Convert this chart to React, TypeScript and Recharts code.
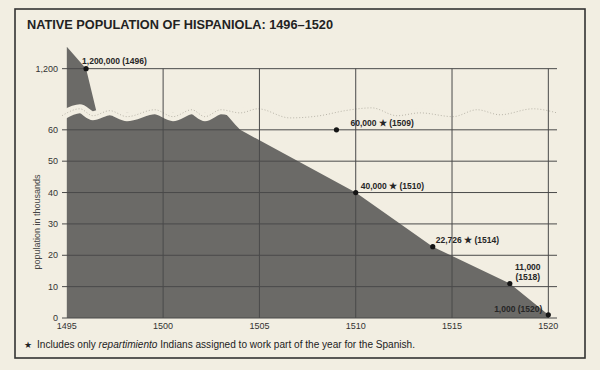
import { ComposedChart, Area, Line, Scatter, XAxis, YAxis, ReferenceLine } from 'recharts'

const BG = '#f2eee2'
const INK = '#262626'
const GRID = '#4a4a4a'
const FILL = '#6b6a67'
const FONT = '"Liberation Sans", Arial, Helvetica, sans-serif'

// the y axis is broken: up to 65 (thousands) it is linear, above that it is squeezed
const BREAK_AT = 65
const TOP_VALUE = 1200
const TOP_POS = 79.5
const toChart = (v: number) =>
  v <= BREAK_AT ? v : BREAK_AT + ((v - BREAK_AT) * (TOP_POS - BREAK_AT)) / (TOP_VALUE - BREAK_AT)

const xTicks = [1495, 1500, 1505, 1510, 1515, 1520]
const yTickValues = [0, 10, 20, 30, 40, 50, 60, 1200]
const yTickLabels = ['0', '10', '20', '30', '40', '50', '60', '1,200']

// population estimates, in thousands
const pointYears = [1496, 1509, 1510, 1514, 1518, 1520]
const pointPop = [1200, 60, 40, 22.726, 11, 1]
const pointText = [
  '1,200,000 (1496)',
  '60,000 ★ (1509)',
  '40,000 ★ (1510)',
  '22,726 ★ (1514)',
  '11,000\n(1518)',
  '1,000 (1520)',
]

// outline of the shaded area, in chart units (above the break it is only a sketch)
const areaYears = [1495, 1496, 1496.55, 1503.2, 1503.75, 1504, 1510, 1514, 1518, 1520]
const areaLevels = [86.5, 79.5, 65.5, 65.5, 61.6, 60, 40, 22.726, 11, 1]

// wavy break band across the axis
const breakYears = [
  1494.75, 1495.68, 1496.35, 1497.23, 1498.12, 1499.57, 1500.51, 1501.49, 1502.17, 1503.0, 1504.0,
  1504.92, 1506.58, 1508.14, 1509.44, 1510.84, 1512.14, 1513.34, 1515.05, 1516.3, 1517.49, 1519.21,
  1520.45,
]
const breakLevels = [
  64.5, 66.7, 64.5, 66.1, 64.2, 66.4, 64.2, 66.4, 64.2, 66.4, 65.4, 66.7, 63.8, 64.5, 66.1, 67.0, 64.5,
  65.4, 64.2, 66.4, 64.8, 66.7, 65.4,
]

const areaData = areaYears.map((year, i) => ({ year, v: areaLevels[i] }))
const breakData = breakYears.map((year, i) => ({ year, v: breakLevels[i] }))
const pointData = pointYears.map((year, i) => ({ year, v: toChart(pointPop[i]), text: pointText[i] }))
const yTicks = yTickValues.map(toChart)

const labelPos: Record<number, { dx: number; dy: number; anchor: 'start' | 'middle' | 'end' }> = {
  1496: { dx: -4, dy: -5, anchor: 'start' },
  1509: { dx: 14, dy: -4, anchor: 'start' },
  1510: { dx: 5, dy: -4, anchor: 'start' },
  1514: { dx: 3, dy: -4, anchor: 'start' },
  1518: { dx: 18, dy: -4, anchor: 'middle' },
  1520: { dx: -6, dy: -3, anchor: 'end' },
}

const renderPoint = (props: any) => {
  const { cx, cy, payload } = props
  const pos = labelPos[payload.year]
  const lines: string[] = payload.text.split('\n')
  const tx = cx + pos.dx
  return (
    <g>
      <circle cx={cx} cy={cy} r={2.6} fill="#151515" />
      <text
        x={tx}
        y={cy + pos.dy}
        textAnchor={pos.anchor}
        fontSize={8.5}
        fontWeight="bold"
        fill={INK}
        fontFamily={FONT}
      >
        {lines.map((l, i) => (
          <tspan key={i} x={tx} dy={i === 0 ? -(lines.length - 1) * 10 : 10}>
            {l}
          </tspan>
        ))}
      </text>
    </g>
  )
}

export default function App() {
  return (
    <div style={{ position: 'relative', width: 600, height: 370, background: BG, fontFamily: FONT }}>
      <style>{`body{margin:0;background:${BG}}`}</style>
      <ComposedChart
        width={600}
        height={370}
        margin={{ top: 42, right: 43, bottom: 32, left: 12 }}
        style={{ position: 'absolute', left: 0, top: 0 }}
      >
        <XAxis
          type="number"
          dataKey="year"
          domain={[1494.75, 1520.45]}
          allowDataOverflow
          ticks={xTicks}
          interval={0}
          axisLine={false}
          tickLine={false}
          tickSize={0}
          tickMargin={5}
          height={20}
          tick={{ fill: '#333', fontSize: 9, fontFamily: FONT }}
        />
        <YAxis
          type="number"
          dataKey="v"
          domain={[0, 88]}
          allowDataOverflow
          ticks={yTicks}
          interval={0}
          axisLine={false}
          tickLine={false}
          tickSize={0}
          tickMargin={4}
          width={50}
          tick={{ fill: '#333', fontSize: 9, fontFamily: FONT }}
          tickFormatter={(v: number) => yTickLabels[yTicks.findIndex((t) => Math.abs(t - v) < 1e-6)] ?? ''}
        />
        <Area
          data={areaData}
          dataKey="v"
          type="linear"
          fill={FILL}
          fillOpacity={1}
          stroke="none"
          isAnimationActive={false}
        />
        <Line
          data={breakData}
          dataKey="v"
          type="monotone"
          stroke={BG}
          strokeWidth={9}
          dot={false}
          activeDot={false}
          isAnimationActive={false}
        />
        <Line
          data={breakData}
          dataKey="v"
          type="monotone"
          stroke="#b9b5a9"
          strokeWidth={1}
          strokeDasharray="1 2"
          dot={false}
          activeDot={false}
          isAnimationActive={false}
        />
        {yTicks.map((t) => (
          <ReferenceLine key={'h' + t} y={t} stroke={GRID} strokeWidth={1} />
        ))}
        {xTicks.slice(1).map((x) => (
          <ReferenceLine
            key={'v' + x}
            segment={[
              { x, y: 0 },
              { x, y: TOP_POS },
            ]}
            stroke={GRID}
            strokeWidth={1}
          />
        ))}
        <Scatter data={pointData} dataKey="v" shape={renderPoint} isAnimationActive={false} />
      </ComposedChart>
      <svg
        width={600}
        height={370}
        style={{ position: 'absolute', left: 0, top: 0, pointerEvents: 'none' }}
      >
        <rect x={15} y={9} width={570} height={349} fill="none" stroke="#333" strokeWidth={1.6} />
        <text
          x={27}
          y={28.5}
          fontSize={12.6}
          fontWeight="bold"
          fill="#222"
          fontFamily={FONT}
          textLength={306}
          lengthAdjust="spacingAndGlyphs"
        >
          NATIVE POPULATION OF HISPANIOLA: 1496–1520
        </text>
        <text
          x={37}
          y={222}
          transform="rotate(-90, 37, 222)"
          textAnchor="middle"
          dominantBaseline="central"
          fontSize={9}
          fill="#444"
          fontFamily={FONT}
        >
          population in thousands
        </text>
        <text x={24} y={347.5} fontSize={9} fill="#222" fontFamily={FONT}>
          ★
        </text>
        <text
          x={37}
          y={347.5}
          fontSize={10}
          fill="#222"
          fontFamily={FONT}
          textLength={378}
          lengthAdjust="spacingAndGlyphs"
        >
          Includes only <tspan fontStyle="italic">repartimiento</tspan> Indians assigned to work part of the
          year for the Spanish.
        </text>
      </svg>
    </div>
  )
}
